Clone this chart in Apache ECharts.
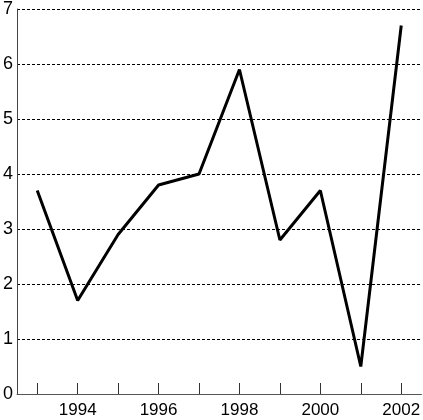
<!DOCTYPE html>
<html><head><meta charset="utf-8">
<script src="https://cdn.jsdelivr.net/npm/echarts@6/dist/echarts.min.js"></script>
<style>html,body{margin:0;padding:0;background:#fff}#c{width:423px;height:420px}</style>
</head><body><div id="c"></div>
<script>
const years = ['1993','1994','1995','1996','1997','1998','1999','2000','2001','2002'];
const values = [3.7, 1.7, 2.9, 3.8, 4.0, 5.9, 2.8, 3.7, 0.5, 6.7];
const chart = echarts.init(document.getElementById('c'), null, {renderer:'canvas'});
chart.setOption({
  animation:false,
  grid:{left:15.5, right:0, top:4.7, bottom:26, containLabel:false},
  xAxis:{type:'category', data:years, boundaryGap:true,
    axisLine:{lineStyle:{color:'#555', width:1}},
    axisTick:{show:true, inside:true, length:11, alignWithLabel:true, interval:0, lineStyle:{color:'#333', width:1}},
    axisLabel:{interval:function(i){return i%2===1;}, color:'#000', fontFamily:'Liberation Sans', fontSize:17, margin:8},
    splitLine:{show:false}},
  yAxis:{type:'value', min:0, max:7, interval:1,
    axisLine:{show:true, lineStyle:{color:'#444', width:1}},
    axisTick:{show:false},
    axisLabel:{color:'#000', fontFamily:'Liberation Sans', fontSize:18, margin:4},
    splitLine:{show:true, lineStyle:{color:'#000', width:1, type:[3,2]}}},
  series:[{type:'line', data:values, symbol:'none', lineStyle:{color:'#000', width:3}}]
});
</script></body></html>
